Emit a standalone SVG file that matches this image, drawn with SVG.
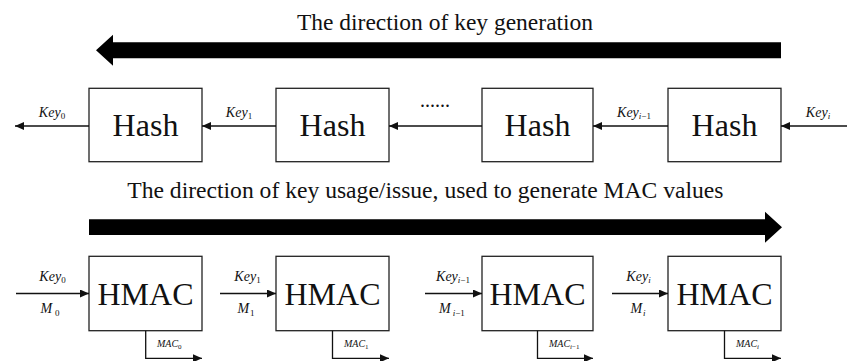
<svg xmlns="http://www.w3.org/2000/svg" width="847" height="361" viewBox="0 0 847 361">
  <style>
    .box { fill: #fff; stroke: #222; stroke-width: 1.3; }
    .wire { fill: none; stroke: #111; stroke-width: 1.3; }
    .big { font-size: 32px; fill: #111; text-anchor: middle; }
    .title { fill: #111; text-anchor: middle; }
    .lbl { font-size: 14px; font-style: italic; fill: #111; text-anchor: middle; }
    .sub { font-size: 9px; font-style: normal; }
    .subi { font-size: 9px; font-style: italic; }
    .mac { font-size: 10px; font-style: italic; fill: #111; }
    .msub { font-size: 7px; font-style: normal; }
    .msubi { font-size: 7px; font-style: italic; }
    .dir { fill: #000; }
  </style>
  <defs>
    <marker id="ah" markerUnits="userSpaceOnUse" markerWidth="10" markerHeight="8" refX="9" refY="4" orient="auto">
      <path d="M0,0 L9,4 L0,8 Z" fill="#111"/>
    </marker>
  </defs>

  <g font-family="Liberation Serif">
  <!-- key generation direction -->
  <g id="gen-direction">
    <text class="title" x="445" y="30" font-size="23.5">The direction of key generation</text>
    <polygon class="dir" points="96,50.2 113,34.7 113,42.3 781,42.3 781,58.3 113,58.3 113,65.7"/>
  </g>

  <!-- hash chain -->
  <g id="hash-1">
    <rect class="box" x="89" y="88.3" width="113" height="73.4"/>
    <text class="big" x="145.5" y="135.5">Hash</text>
  </g>
  <g id="hash-2">
    <rect class="box" x="276" y="88.3" width="113" height="73.4"/>
    <text class="big" x="332.5" y="135.5">Hash</text>
  </g>
  <g id="hash-3">
    <rect class="box" x="482" y="88.3" width="111" height="73.4"/>
    <text class="big" x="537.5" y="135.5">Hash</text>
  </g>
  <g id="hash-4">
    <rect class="box" x="668" y="88.3" width="113" height="73.4"/>
    <text class="big" x="724.5" y="135.5">Hash</text>
  </g>

  <!-- usage direction -->
  <g id="use-direction">
    <text class="title" x="425.4" y="198" font-size="23.6">The direction of key usage/issue, used to generate MAC values</text>
    <polygon class="dir" points="89,219.3 765,219.3 765,211.7 782,227.2 765,242.7 765,235 89,235"/>
  </g>

  <!-- HMAC stages -->
  <g id="hmac-1">
    <rect class="box" x="89" y="256.3" width="113" height="74.4"/>
    <text class="big" x="145.5" y="304.5">HMAC</text>
  </g>
  <g id="hmac-2">
    <rect class="box" x="276" y="256.3" width="113" height="74.4"/>
    <text class="big" x="332.5" y="304.5">HMAC</text>
  </g>
  <g id="hmac-3">
    <rect class="box" x="482" y="256.3" width="111" height="74.4"/>
    <text class="big" x="537.5" y="304.5">HMAC</text>
  </g>
  <g id="hmac-4">
    <rect class="box" x="668" y="256.3" width="113" height="74.4"/>
    <text class="big" x="724.5" y="304.5">HMAC</text>
  </g>

  <!-- connectors -->
  <g id="connectors">
    <!-- hash chain, right to left -->
    <line class="wire" x1="89" y1="126" x2="15" y2="126" marker-end="url(#ah)"/>
    <line class="wire" x1="276" y1="126" x2="202" y2="126" marker-end="url(#ah)"/>
    <line class="wire" x1="482" y1="126" x2="389" y2="126" marker-end="url(#ah)"/>
    <line class="wire" x1="668" y1="126" x2="593" y2="126" marker-end="url(#ah)"/>
    <line class="wire" x1="847" y1="126" x2="781" y2="126" marker-end="url(#ah)"/>

    <!-- HMAC inputs -->
    <line class="wire" x1="16" y1="293.5" x2="89" y2="293.5" marker-end="url(#ah)"/>
    <line class="wire" x1="220" y1="293.5" x2="276" y2="293.5" marker-end="url(#ah)"/>
    <line class="wire" x1="425" y1="293.5" x2="482" y2="293.5" marker-end="url(#ah)"/>
    <line class="wire" x1="612" y1="293.5" x2="668" y2="293.5" marker-end="url(#ah)"/>

    <!-- MAC outputs -->
    <polyline class="wire" points="145.7,330.7 145.7,358.3 202,358.3" marker-end="url(#ah)"/>
    <polyline class="wire" points="332.5,330.7 332.5,358.3 389,358.3" marker-end="url(#ah)"/>
    <polyline class="wire" points="537.5,330.7 537.5,358.3 593,358.3" marker-end="url(#ah)"/>
    <polyline class="wire" points="724.5,330.7 724.5,358.3 781,358.3" marker-end="url(#ah)"/>

    <!-- hash chain labels -->
    <text class="lbl" x="52" y="116.7">Key<tspan class="sub" dy="2.6">0</tspan></text>
    <text class="lbl" x="239" y="116.7">Key<tspan class="sub" dy="2.6">1</tspan></text>
    <text class="title" x="435" y="107" font-size="20" textLength="30" lengthAdjust="spacing">......</text>
    <text class="lbl" x="634" y="116.7">Key<tspan class="subi" dy="2.6">i</tspan><tspan class="sub">−1</tspan></text>
    <text class="lbl" x="818" y="116.7">Key<tspan class="subi" dy="2.6">i</tspan></text>

    <!-- HMAC input labels -->
    <text class="lbl" x="52.5" y="280.7">Key<tspan class="sub" dy="2.6">0</tspan></text>
    <text class="lbl" x="50" y="313.3">M<tspan class="sub" dx="3" dy="2.6">0</tspan></text>
    <text class="lbl" x="247.5" y="280.7">Key<tspan class="sub" dy="2.6">1</tspan></text>
    <text class="lbl" x="246" y="313.3">M<tspan class="sub" dx="1" dy="2.6">1</tspan></text>
    <text class="lbl" x="453" y="280.7">Key<tspan class="subi" dy="2.6">i</tspan><tspan class="sub">−1</tspan></text>
    <text class="lbl" x="452" y="313.3">M<tspan class="subi" dx="2" dy="2.6">i</tspan><tspan class="sub">−1</tspan></text>
    <text class="lbl" x="638.5" y="280.7">Key<tspan class="subi" dy="2.6">i</tspan></text>
    <text class="lbl" x="638" y="313.3">M<tspan class="subi" dx="1" dy="2.6">i</tspan></text>

    <!-- MAC labels -->
    <text class="mac" x="157" y="347">MAC<tspan class="msub" dy="2">0</tspan></text>
    <text class="mac" x="344" y="347">MAC<tspan class="msub" dy="2">1</tspan></text>
    <text class="mac" x="549" y="347">MAC<tspan class="msubi" dy="2">i</tspan><tspan class="msub">−1</tspan></text>
    <text class="mac" x="736" y="347">MAC<tspan class="msubi" dy="2">i</tspan></text>
  </g>
  </g>
</svg>
